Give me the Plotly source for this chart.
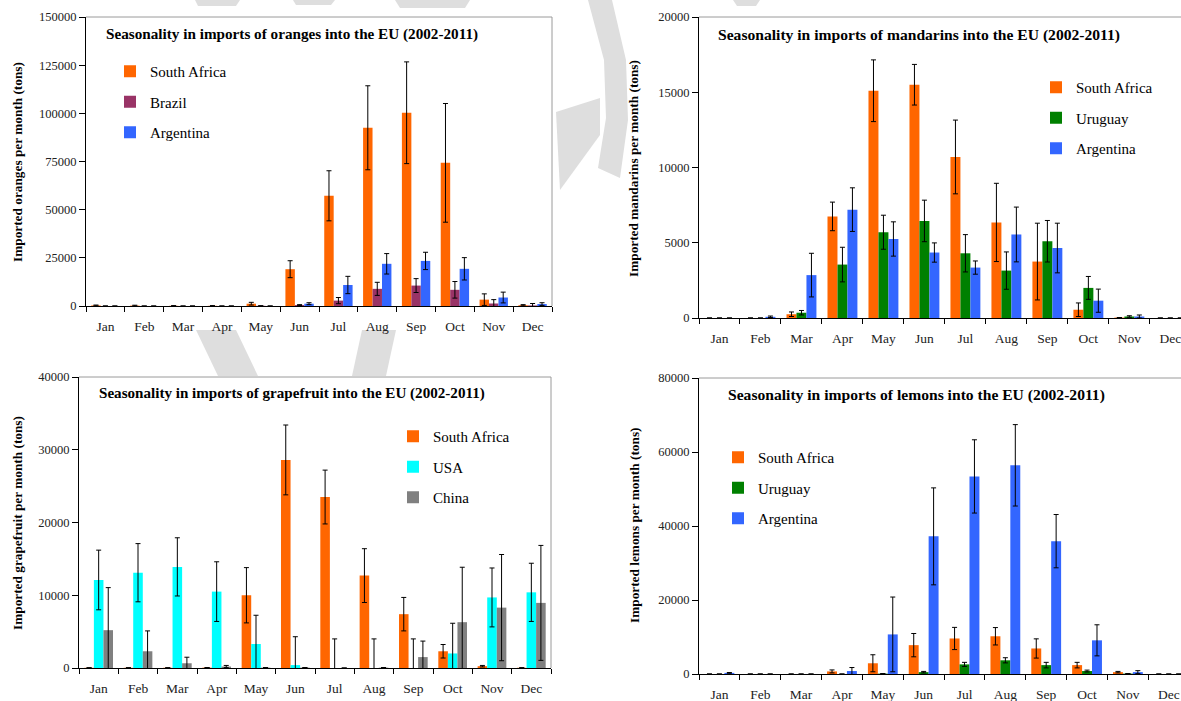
import plotly.graph_objects as go

W, H = 1181, 701

months = ["Jan", "Feb", "Mar", "Apr", "May", "Jun", "Jul", "Aug", "Sep", "Oct", "Nov", "Dec"]

# Oranges
or_sa = [300, 200, 100, 100, 1200, 19100, 57200, 92500, 100300, 74300, 3300, 400]
or_sa_err = [200, 200, 100, 100, 700, 4400, 13000, 21800, 26400, 30800, 3000, 300]
or_br = [0, 0, 0, 0, 100, 500, 2800, 8900, 10600, 8400, 1300, 300]
or_br_err = [0, 0, 0, 0, 0, 200, 1600, 3400, 3600, 4300, 2000, 1000]
or_ar = [0, 0, 0, 0, 0, 1200, 10900, 21900, 23400, 19300, 4400, 1000]
or_ar_err = [0, 0, 0, 0, 0, 500, 4500, 5300, 4500, 5800, 2800, 700]

# Mandarins
md_sa = [0, 0, 250, 6750, 15100, 15500, 10700, 6350, 3750, 550, 30, 0]
md_sa_err = [0, 0, 150, 950, 2050, 1350, 2450, 2600, 2550, 450, 0, 0]
md_uy = [0, 0, 350, 3550, 5700, 6450, 4300, 3150, 5100, 2000, 100, 0]
md_uy_err = [0, 0, 150, 1150, 1130, 1380, 1240, 1240, 1380, 760, 50, 0]
md_ar = [0, 80, 2850, 7200, 5250, 4350, 3350, 5550, 4650, 1150, 100, 0]
md_ar_err = [0, 50, 1450, 1450, 1140, 640, 440, 1820, 1650, 770, 100, 0]

# Grapefruit
gf_sa = [30, 30, 30, 50, 10000, 28600, 23500, 12700, 7400, 2300, 250, 30]
gf_sa_err = [0, 0, 0, 0, 3800, 4800, 3700, 3700, 2300, 930, 100, 0]
gf_us = [12100, 13100, 13900, 10500, 3300, 400, 0, 0, 0, 2000, 9700, 10400]
gf_us_err = [4100, 4000, 4000, 4100, 3950, 3900, 4000, 4000, 4000, 4150, 4050, 4000]
gf_cn = [5200, 2300, 650, 200, 50, 50, 0, 50, 1500, 6300, 8300, 8950]
gf_cn_err = [5850, 2800, 830, 150, 0, 0, 0, 0, 2200, 7550, 7300, 7900]

# Lemons
lm_sa = [0, 0, 0, 700, 2900, 7800, 9600, 10200, 6900, 2400, 500, 0]
lm_sa_err = [0, 0, 0, 400, 2300, 3150, 3000, 2350, 2600, 750, 200, 0]
lm_uy = [0, 0, 0, 0, 100, 500, 2600, 3700, 2400, 800, 100, 0]
lm_uy_err = [0, 0, 0, 0, 0, 200, 550, 700, 750, 250, 0, 0]
lm_ar = [300, 0, 0, 800, 10700, 37200, 53400, 56400, 35900, 9100, 500, 0]
lm_ar_err = [100, 0, 0, 950, 10100, 13100, 9900, 11000, 7200, 4200, 400, 0]

C_SA = "#FF6600"
C_BR = "#993366"
C_AR = "#3366FF"
C_UY = "#008000"
C_US = "#00FFFF"
C_CN = "#808080"

FONT = "Liberation Serif, serif"


def px(x):
    return x / W


def py(y):
    return 1 - y / H


fig = go.Figure()

panels = [
    ("", "legend", [("South Africa", or_sa, or_sa_err, C_SA),
                    ("Brazil", or_br, or_br_err, C_BR),
                    ("Argentina", or_ar, or_ar_err, C_AR)]),
    ("2", "legend2", [("South Africa", md_sa, md_sa_err, C_SA),
                      ("Uruguay", md_uy, md_uy_err, C_UY),
                      ("Argentina", md_ar, md_ar_err, C_AR)]),
    ("3", "legend3", [("South Africa", gf_sa, gf_sa_err, C_SA),
                      ("USA", gf_us, gf_us_err, C_US),
                      ("China", gf_cn, gf_cn_err, C_CN)]),
    ("4", "legend4", [("South Africa", lm_sa, lm_sa_err, C_SA),
                      ("Uruguay", lm_uy, lm_uy_err, C_UY),
                      ("Argentina", lm_ar, lm_ar_err, C_AR)]),
]

for suf, leg, series in panels:
    for name, vals, errs, col in series:
        fig.add_trace(go.Bar(
            x=months, y=vals, name=name,
            marker=dict(color=col, line=dict(width=0)),
            error_y=dict(type="data", array=errs, visible=True,
                         color="black", thickness=1, width=2.5),
            xaxis="x" + suf, yaxis="y" + suf,
            legend=leg, legendgroup=leg + name,
        ))

# geometry in pixels: (x0, x1, ytop, ybottom, xrange_end, ymax, dtick)
geo = {
    "": (86, 552, 17, 306, 11.5, 150000, 25000),
    "2": (699, 1181, 17, 318, 11.26, 20000, 5000),
    "3": (79, 551, 377, 668, 11.5, 40000, 10000),
    "4": (699, 1181, 378, 674, 11.3, 80000, 20000),
}

tickfont = dict(family=FONT, size=13.5, color="#222")
layout = dict(
    width=W, height=H, autosize=False,
    margin=dict(l=0, r=0, t=0, b=0, pad=0, autoexpand=False),
    paper_bgcolor="white", plot_bgcolor="white",
    barmode="group", bargap=0.27, bargroupgap=0,
    showlegend=True,
    font=dict(family=FONT, color="black"),
)

shapes = []
for suf, (x0, x1, yt, yb, xend, ymax, dt) in geo.items():
    layout["xaxis" + suf] = dict(
        domain=[px(x0), px(x1)], anchor="y" + suf,
        type="category", range=[-0.5, xend],
        showline=True, linecolor="black", linewidth=1,
        ticks="outside", tickson="boundaries", ticklen=5, tickcolor="black",
        tickfont=tickfont, ticklabelstandoff=8, automargin=False,
        showgrid=False, zeroline=False, fixedrange=True,
    )
    layout["yaxis" + suf] = dict(
        domain=[py(yb), py(yt)], anchor="x" + suf,
        range=[0, ymax], dtick=dt, tickformat="d",
        showline=True, linecolor="black", linewidth=1,
        ticks="outside", ticklen=6, tickcolor="black",
        tickfont=dict(family=FONT, size=12.5, color="#222"), automargin=False,
        showgrid=False, zeroline=False, fixedrange=True,
    )
    xr = "x" + suf + " domain"
    yr = "y" + suf + " domain"
    shapes.append(dict(type="line", xref=xr, yref=yr, x0=0, x1=1, y0=1, y1=1,
                       line=dict(color="#9a9a9a", width=1)))
    if x1 < W:
        shapes.append(dict(type="line", xref=xr, yref=yr, x0=1, x1=1, y0=0, y1=1,
                           line=dict(color="#9a9a9a", width=1)))

# faint background watermark fragments (outside plot areas)
wm = [
    [(195, 0), (240, 0), (236, 6), (198, 6)],
    [(293, 0), (335, 0), (331, 5), (296, 5)],
    [(395, 0), (470, 0), (465, 8), (400, 8)],
    [(733, 0), (760, 0), (756, 6), (737, 6)],
    [(556, 112), (600, 98), (600, 135), (560, 190)],
    [(588, 0), (612, 0), (626, 60), (628, 120), (620, 178), (598, 168), (606, 118), (604, 60)],
    [(196, 330), (236, 330), (258, 376), (218, 376)],
    [(362, 330), (396, 330), (386, 376), (352, 376)],
]
for poly in wm:
    path = "M " + " L ".join(f"{px(x):.5f},{py(y):.5f}" for x, y in poly) + " Z"
    shapes.append(dict(type="path", xref="paper", yref="paper", path=path,
                       fillcolor="#dedede", line=dict(width=0), layer="below"))

layout["shapes"] = shapes

titles = [
    ("Seasonality in imports of oranges into the EU (2002-2011)", 104, 34, 15.2),
    ("Seasonality in imports of mandarins into the EU (2002-2011)", 716, 35, 15.6),
    ("Seasonality in imports of grapefruit into the EU (2002-2011)", 97, 393, 15.1),
    ("Seasonality in imports of lemons into the EU (2002-2011)", 726, 395, 15.6),
]
ytitles = [
    ("Imported oranges per month (tons)", 17, 162),
    ("Imported mandarins per month (tons)", 634, 168),
    ("Imported grapefruit per month (tons)", 17, 523),
    ("Imported lemons per month (tons)", 634, 525),
]
ann = []
for t, x, y, fs in titles:
    ann.append(dict(text="<b>" + t + "</b>", xref="paper", yref="paper",
                    x=px(x), y=py(y), xanchor="left", yanchor="middle",
                    showarrow=False, font=dict(family=FONT, size=fs, color="black")))
for t, x, y in ytitles:
    ann.append(dict(text="<b>" + t + "</b>", xref="paper", yref="paper",
                    x=px(x), y=py(y), xanchor="center", yanchor="middle",
                    textangle=-90, showarrow=False,
                    font=dict(family=FONT, size=13.3, color="black")))
layout["annotations"] = ann

legfont = dict(family=FONT, size=15, color="black")
legpos = {
    "legend": (110, 55),
    "legend2": (1036, 71),
    "legend3": (393, 420),
    "legend4": (718, 441),
}
for name, (x, y) in legpos.items():
    layout[name] = dict(x=px(x), y=py(y), xanchor="left", yanchor="top",
                        bgcolor="rgba(0,0,0,0)", borderwidth=0,
                        font=legfont, tracegroupgap=8, itemwidth=30,
                        orientation="v")

fig.update_layout(**layout)
fig.write_html(
    "out.html",
    config={"displayModeBar": False, "staticPlot": True},
    post_script=(
        "document.documentElement.style.margin='0';"
        "document.documentElement.style.overflow='hidden';"
        "document.body.style.margin='0';document.body.style.padding='0';"
        "document.body.style.overflow='hidden';"
        "var d=document.getElementById('{plot_id}');"
        "d.style.position='fixed';d.style.left='0px';d.style.top='0px';"
    ),
)
